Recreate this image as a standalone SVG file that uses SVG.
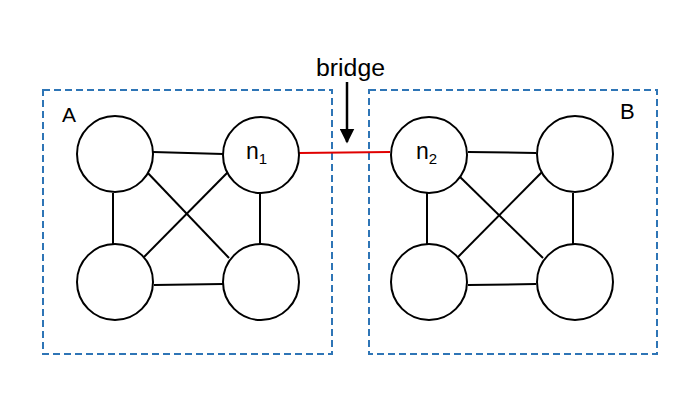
<svg xmlns="http://www.w3.org/2000/svg" width="699" height="394" viewBox="0 0 699 394">
<style>
.grp{fill:none;stroke:#2E75B6;stroke-width:2;stroke-dasharray:7 4}
.nd{fill:#fff;stroke:#000;stroke-width:2}
.e{stroke:#000;stroke-width:2;fill:none}
.t{font-family:"Liberation Sans",Arial,sans-serif;font-size:21px;fill:#000}
.sub{font-size:15px}
</style>
<defs>
<marker id="ah" viewBox="0 0 10 10" refX="9" refY="5" markerWidth="6" markerHeight="6" orient="auto" markerUnits="strokeWidth"><path d="M0,0 L10,5 L0,10 Z" fill="#000"/></marker>
</defs>
<rect width="699" height="394" fill="#fff"/>
<g id="groupA"><rect class="grp" x="43" y="90" width="289" height="264"/><text class="t" x="62" y="122" style="font-size:21px">A</text></g>
<g id="groupB"><rect class="grp" x="369" y="90" width="288" height="264"/><text class="t" x="620" y="119" style="font-size:22px">B</text></g>
<g id="connectors">
<line class="e" x1="153" y1="152" x2="223" y2="154"/>
<line class="e" x1="113" y1="193" x2="113" y2="245"/>
<line class="e" x1="260" y1="193" x2="260" y2="245"/>
<line class="e" x1="145" y1="170" x2="229" y2="258"/>
<line class="e" x1="228" y1="172" x2="144" y2="257"/>
<line class="e" x1="154" y1="285" x2="223" y2="284"/>
<line class="e" x1="468" y1="152" x2="536" y2="153"/>
<line class="e" x1="427" y1="193" x2="427" y2="245"/>
<line class="e" x1="573" y1="193" x2="573" y2="245"/>
<line class="e" x1="458" y1="175" x2="543" y2="258"/>
<line class="e" x1="542" y1="172" x2="458" y2="257"/>
<line class="e" x1="468" y1="285" x2="536" y2="284"/>
<line x1="299" y1="153" x2="390" y2="152" stroke="#E00000" stroke-width="2"/>
<line x1="347" y1="82" x2="347" y2="142" stroke="#000" stroke-width="2.5" marker-end="url(#ah)"/>
<text class="t" x="316" y="76" textLength="69" lengthAdjust="spacingAndGlyphs" style="font-size:23px">bridge</text>
</g>
<g id="a1"><circle class="nd" cx="115" cy="154" r="38"/></g>
<g id="n1"><circle class="nd" cx="261" cy="155" r="38"/><text class="t" x="246" y="159" style="font-size:23px">n<tspan class="sub" dy="5">1</tspan></text></g>
<g id="a3"><circle class="nd" cx="115" cy="282" r="38"/></g>
<g id="a4"><circle class="nd" cx="261" cy="282" r="38"/></g>
<g id="n2"><circle class="nd" cx="429" cy="155" r="38"/><text class="t" x="416" y="159" style="font-size:23px">n<tspan class="sub" dy="5">2</tspan></text></g>
<g id="b2"><circle class="nd" cx="575" cy="154" r="38"/></g>
<g id="b3"><circle class="nd" cx="429" cy="282" r="38"/></g>
<g id="b4"><circle class="nd" cx="575" cy="282" r="38"/></g>
</svg>
